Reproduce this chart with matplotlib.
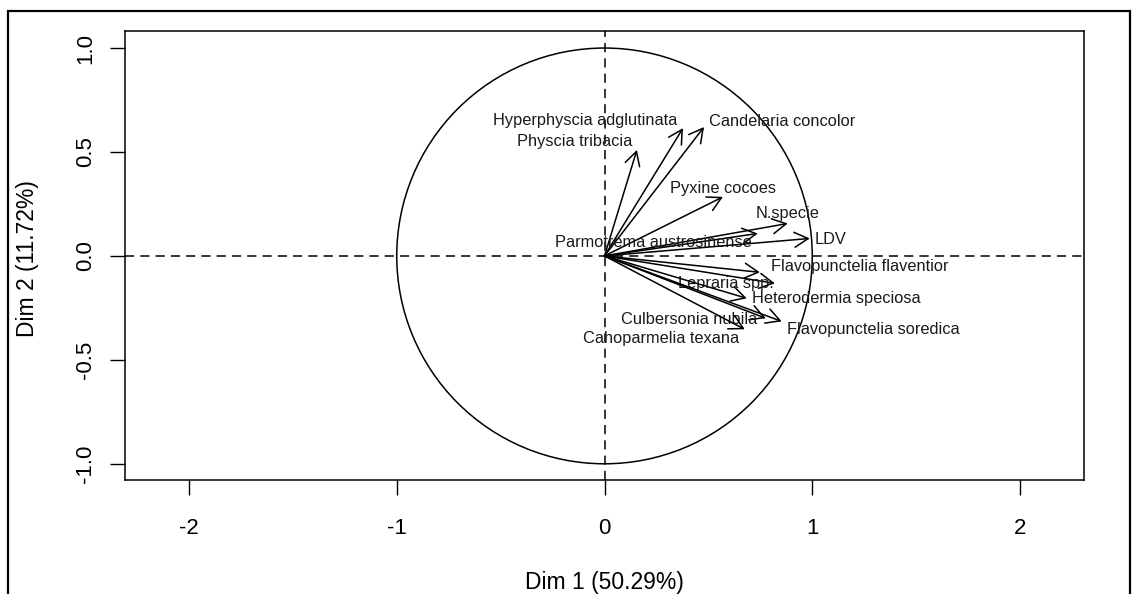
import numpy as np
import matplotlib.pyplot as plt
from matplotlib.patches import Circle, Rectangle

plt.rcParams['font.family'] = ['Liberation Sans', 'DejaVu Sans']

# coordonnées des variables sur les dimensions 1 et 2
species = ['Hyperphyscia adglutinata', 'Candelaria concolor', 'Physcia tribacia',
           'Pyxine cocoes', 'N.specie', 'Parmotrema austrosinense', 'LDV',
           'Flavopunctelia flaventior', 'Lepraria spp.', 'Heterodermia speciosa',
           'Culbersonia nubila', 'Flavopunctelia soredica', 'Cahoparmelia texana']
dim1 = [0.378, 0.479, 0.156, 0.570, 0.882, 0.738, 0.988,
        0.748, 0.820, 0.685, 0.776, 0.853, 0.675]
dim2 = [0.615, 0.620, 0.510, 0.284, 0.156, 0.108, 0.084,
        -0.079, -0.132, -0.204, -0.300, -0.315, -0.353]

# position des étiquettes (centre du texte)
lab_x = [-0.095, 0.857, -0.142, 0.570, 0.883, 0.236, 1.090,
         1.230, 0.585, 1.114, 0.409, 1.292, 0.270]
lab_y = [0.650, 0.649, 0.550, 0.326, 0.202, 0.064, 0.077,
         -0.053, -0.131, -0.203, -0.308, -0.352, -0.396]

xticks = [-2, -1, 0, 1, 2]
yticks = [-1.0, -0.5, 0.0, 0.5, 1.0]

fig = plt.figure(figsize=(11.34, 5.94), dpi=100)
ax = fig.add_axes([125 / 1134, 114 / 594, 959 / 1134, 449 / 594])

ax.set_xlim(-2.308, 2.308)
ax.set_ylim(-1.078, 1.082)

# cercle des corrélations
ax.add_patch(Circle((0, 0), 1, fill=False, color='black', lw=1.1))
ax.axhline(0, color='black', lw=1.1, ls=(0, (6, 4)))
ax.axvline(0, color='black', lw=1.1, ls=(0, (6, 4)))

for sp, x, y, lx, ly in zip(species, dim1, dim2, lab_x, lab_y):
    ax.annotate('', xy=(x, y), xytext=(0, 0),
                arrowprops=dict(arrowstyle='->,head_length=0.55,head_width=0.3',
                                mutation_scale=18, lw=1.1, color='black',
                                shrinkA=0, shrinkB=0))
    ax.text(lx, ly, sp, ha='center', va='center', fontsize=11.8, color='#1a1a1a')

ax.set_xticks(xticks)
ax.set_xticklabels([f'{t:g}' for t in xticks])
ax.set_yticks(yticks)
ax.set_yticklabels([f'{t:.1f}' for t in yticks], rotation=90, va='center')
ax.tick_params(axis='both', length=11, width=1, labelsize=16, colors='black')
ax.tick_params(axis='x', pad=16)
ax.tick_params(axis='y', pad=10)
for s in ax.spines.values():
    s.set_linewidth(1.1)

fig.text(604.5 / 1134, 1 - 582 / 594, 'Dim 1 (50.29%)', ha='center', va='center', fontsize=16.5)
fig.text(28 / 1134, 1 - 259 / 594, 'Dim 2 (11.72%)', ha='center', va='center',
         rotation=90, fontsize=16.5)

# cadre extérieur
fig.patches.append(Rectangle((8 / 1134, -0.05), 1122 / 1134, 1.05 - 11 / 594,
                             transform=fig.transFigure, fill=False,
                             edgecolor='black', lw=1.6))

fig.savefig('out.png', dpi=100)
